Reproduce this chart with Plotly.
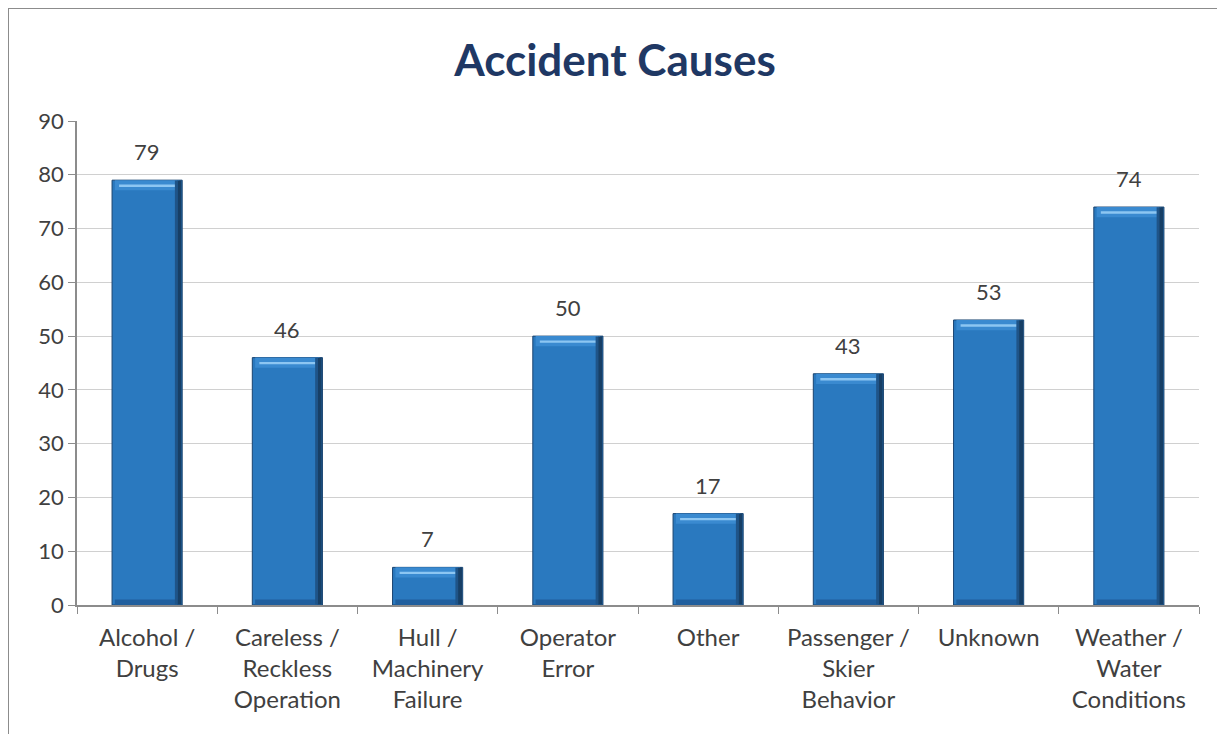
import plotly.graph_objects as go

categories = ["Alcohol /<br>Drugs", "Careless /<br>Reckless<br>Operation", "Hull /<br>Machinery<br>Failure",
              "Operator<br>Error", "Other", "Passenger /<br>Skier<br>Behavior", "Unknown",
              "Weather /<br>Water<br>Conditions"]
values = [79, 46, 7, 50, 17, 43, 53, 74]
y_ticks = [0, 10, 20, 30, 40, 50, 60, 70, 80, 90]

FONT = "Lato, Open Sans, sans-serif"
TXT = "#404040"
n = len(values)

fig = go.Figure()
# main bars
fig.add_trace(go.Bar(
    x=categories, y=values,
    marker=dict(color="#2A79BF", line=dict(color="#1A4470", width=1)),
    hoverinfo="x+y", showlegend=False,
))
# bevel: top band (lighter)
fig.add_trace(go.Bar(
    x=categories, y=[1.9] * n, base=[v - 1.9 for v in values],
    marker=dict(color="#3A8AD0", line=dict(width=0)), width=0.46,
    hoverinfo="skip", showlegend=False,
))
# bevel: highlight stripe
fig.add_trace(go.Bar(
    x=categories, y=[0.45] * n, base=[v - 1.25 for v in values],
    marker=dict(color="#8DC6F2", line=dict(width=0)), width=0.40,
    hoverinfo="skip", showlegend=False,
))
# bevel: bottom band (darker)
fig.add_trace(go.Bar(
    x=categories, y=[0.9] * n, base=[0.1] * n,
    marker=dict(color="#205F9E", line=dict(width=0)), width=0.46,
    hoverinfo="skip", showlegend=False,
))
# bevel: right edge (dark)
fig.add_trace(go.Bar(
    x=categories, y=[v - 0.15 for v in values], base=[0.1] * n,
    marker=dict(color="#173F66", line=dict(width=0)), width=0.03, offset=0.215,
    hoverinfo="skip", showlegend=False,
))
fig.add_trace(go.Bar(
    x=categories, y=[v - 0.15 for v in values], base=[0.1] * n,
    marker=dict(color="#1F5488", line=dict(width=0)), width=0.02, offset=0.198,
    hoverinfo="skip", showlegend=False,
))

for c, v in zip(categories, values):
    fig.add_annotation(x=c, y=v, text=str(v), showarrow=False, yanchor="bottom", yshift=13,
                       font=dict(size=22, color=TXT, family=FONT))

fig.update_layout(
    width=1225, height=734,
    margin=dict(l=69, r=34, t=113, b=137),
    paper_bgcolor="white", plot_bgcolor="white",
    barmode="overlay", bargap=0.5,
    title=dict(text="<b>Accident Causes</b>", x=0.4955, xref="container", xanchor="center",
               y=0.929, yref="container", yanchor="middle",
               font=dict(size=44, color="#1F3864", family=FONT)),
    font=dict(family=FONT, color=TXT),
    xaxis=dict(showline=True, linecolor="#8C8C8C", linewidth=1.5,
               ticks="outside", ticklen=7, tickcolor="#8C8C8C", tickson="boundaries",
               ticklabelstandoff=10,
               tickfont=dict(size=24, color=TXT, family=FONT), showgrid=False),
    yaxis=dict(range=[0, 90], tickvals=y_ticks, showline=True, linecolor="#8C8C8C", linewidth=1.5,
               ticks="outside", ticklen=7, tickcolor="#8C8C8C",
               gridcolor="#D0D0D0", gridwidth=1.2, zeroline=False,
               tickfont=dict(size=22, color=TXT, family=FONT)),
    shapes=[dict(type="rect", xref="paper", yref="paper", x0=-0.0615, x1=1.2, y0=-0.6, y1=1.2335,
                 line=dict(color="#8C8C8C", width=2), layer="below")],
)

fig.write_html("out.html")
